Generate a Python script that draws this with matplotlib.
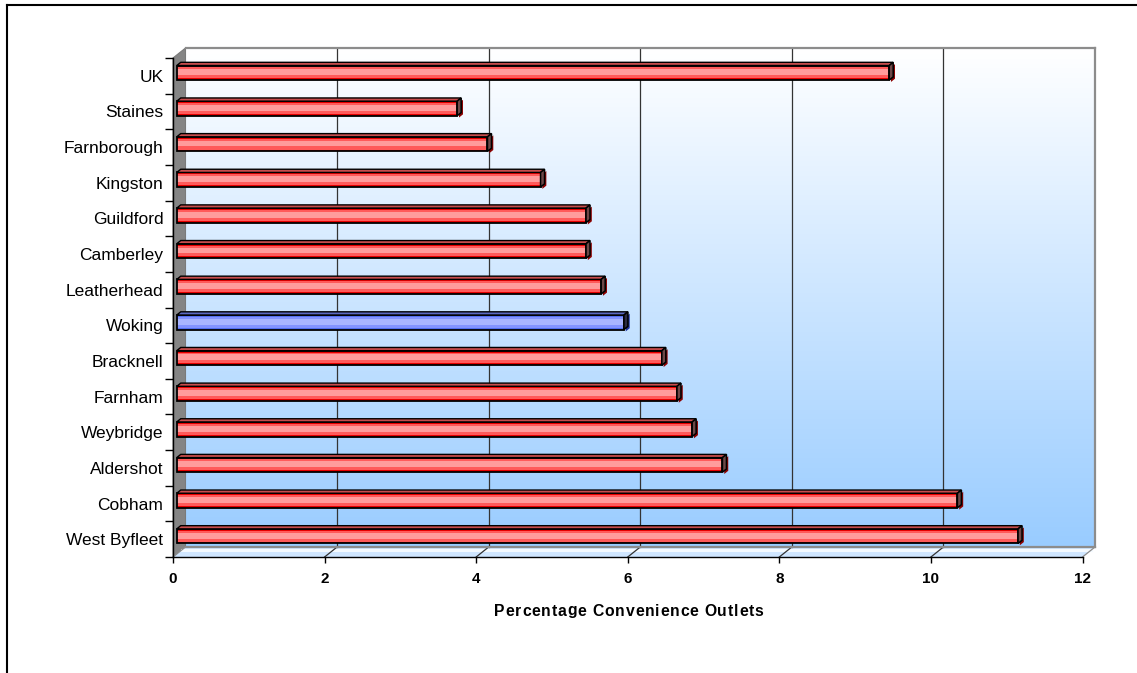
import numpy as np
import matplotlib
matplotlib.use("Agg")
import matplotlib.pyplot as plt
from matplotlib.patches import Polygon
from matplotlib.transforms import ScaledTranslation
from matplotlib.lines import Line2D
from matplotlib.font_manager import FontProperties

# ---- data -------------------------------------------------------------
categories = ["UK", "Staines", "Farnborough", "Kingston", "Guildford",
              "Camberley", "Leatherhead", "Woking", "Bracknell", "Farnham",
              "Weybridge", "Aldershot", "Cobham", "West Byfleet"]
values = [9.4, 3.7, 4.1, 4.8, 5.4, 5.4, 5.6, 5.9, 6.4, 6.6, 6.8, 7.2, 10.3, 11.1]
highlight = "Woking"
x_ticks = [0, 2, 4, 6, 8, 10, 12]
x_label = "Percentage Convenience Outlets"

# ---- styling ----------------------------------------------------------
FONT = "Liberation Sans"
RED = dict(outer="#E60000", mid="#FF5A5A", light="#FF9C9C",
           top="#C84C4C", cap="#6E4848", shadow="#8B0000")
BLUE = dict(outer="#5470F0", mid="#8393FF", light="#A9B5FF",
            top="#5A68C0", cap="#2C2C44", shadow="#1F33A0")

W, H, DPI = 1137, 673, 100
fig = plt.figure(figsize=(W / DPI, H / DPI), dpi=DPI)
fig.patch.set_facecolor("white")

# front plane of the plot box (pixels)
px_left, px_right = 173.0, 1082.5
px_top, px_bottom = 58.0, 557.0
ax = fig.add_axes([px_left / W, 1 - px_bottom / H,
                   (px_right - px_left) / W, (px_bottom - px_top) / H])
n = len(categories)
xmax = x_ticks[-1]
ax.patch.set_visible(False)

kx = (px_right - px_left) / xmax       # px per x unit
ky = (px_bottom - px_top) / n          # px per category
DEPTH_X, DEPTH_Y = 12.5, 10.0          # pixel shift from front to back plane
Dx, Dy = DEPTH_X / kx, -DEPTH_Y / ky


def at(x, y, t):
    """Point (x, y) pushed back to depth fraction t (0 front, 1 back)."""
    return (x + t * Dx, y + t * Dy)


y_top, y_bot = -0.5, n - 0.5

# back wall with vertical gradient
back = ax.transData + ScaledTranslation(DEPTH_X / DPI, DEPTH_Y / DPI,
                                        fig.dpi_scale_trans)
g = np.linspace(0, 1, 256)[:, None, None]
c0 = np.array([1.0, 1.0, 1.0])
c1 = np.array([0x99, 0xCC, 0xFF]) / 255.0
grad = c0 * (1 - g) + c1 * g
ax.imshow(grad, extent=(0, xmax, y_bot, y_top), transform=back,
          aspect="auto", interpolation="bilinear", zorder=0, clip_on=False)

# left wall
ax.add_patch(Polygon([at(0, y_top, 0), at(0, y_top, 1), at(0, y_bot, 1),
                      at(0, y_bot, 0)], closed=True, fc="#858585",
                     ec="#7A7A7A", lw=0.8, zorder=1, clip_on=False))
# floor
ax.add_patch(Polygon([at(0, y_bot, 0), at(xmax, y_bot, 0), at(xmax, y_bot, 1),
                      at(0, y_bot, 1)], closed=True, fc="#CFE6FF",
                     ec="none", zorder=1, clip_on=False))
fx = [at(0, y_bot, 0.72)[0], at(xmax, y_bot, 0.72)[0]]
fy = [at(0, y_bot, 0.72)[1], at(xmax, y_bot, 0.72)[1]]
ax.plot(fx, fy, color="#F4FAFF", lw=2.2, zorder=1.1, clip_on=False)

# grid on the back wall and its trace across the floor
for xv in x_ticks:
    edge = xv in (x_ticks[0], x_ticks[-1])
    col = "#8C8C8C" if edge else "#333333"
    if not edge:
        p0, p1 = at(xv, y_bot, 1), at(xv, y_top, 1)
        ax.plot([p0[0], p1[0]], [p0[1], p1[1]], color=col, lw=0.9,
                zorder=1.5, clip_on=False)
    p0, p1 = at(xv, y_bot, 1), at(xv, y_bot, 0)
    ax.plot([p0[0], p1[0]], [p0[1], p1[1]], color=col, lw=0.9,
            zorder=1.5, clip_on=False)

# back wall frame
for a, b in [((0, y_top), (xmax, y_top)), ((xmax, y_top), (xmax, y_bot)),
             ((0, y_bot), (xmax, y_bot))]:
    p0, p1 = at(*a, 1), at(*b, 1)
    ax.plot([p0[0], p1[0]], [p0[1], p1[1]], color="#8C8C8C", lw=1.6,
            zorder=1.6, clip_on=False, solid_capstyle="projecting")

# ---- bars ---------------------------------------------------------------
t1, t2 = 0.3, 0.62
bh = 0.41
sx, sy = 1.8 / kx, 1.8 / ky
for i, (cat, v) in enumerate(zip(categories, values)):
    pal = BLUE if cat == highlight else RED
    yc = i + t1 * Dy
    x0 = t1 * Dx
    ytop, ybot = i - bh / 2, i + bh / 2
    cap = [at(v, ytop, t1), at(v, ytop, t2), at(v, ybot, t2), at(v, ybot, t1)]
    # shadow under the end cap
    ax.add_patch(Polygon([(px + sx, py + sy) for px, py in cap], closed=True,
                         fc=pal["shadow"], ec="none", zorder=4, clip_on=False))
    # front face, banded
    ax.barh(yc, v, height=bh, left=x0, color=pal["outer"], zorder=5,
            clip_on=False)
    ax.barh(yc, v, height=bh * 0.74, left=x0, color=pal["mid"], zorder=5.1,
            clip_on=False)
    ax.barh(yc - bh * 0.04, v, height=bh * 0.40, left=x0, color=pal["light"],
            zorder=5.2, clip_on=False)
    ax.barh(yc, v, height=bh, left=x0, fill=False, edgecolor="black",
            lw=1.3, zorder=5.3, clip_on=False)
    # top face
    ax.add_patch(Polygon([at(0, ytop, t1), at(v, ytop, t1), at(v, ytop, t2),
                          at(0, ytop, t2)], closed=True, fc=pal["top"],
                         ec="black", lw=1.0, zorder=5.4, clip_on=False))
    # end cap
    ax.add_patch(Polygon(cap, closed=True, fc=pal["cap"], ec="black", lw=1.1,
                         zorder=5.5, clip_on=False))

# ---- axes ---------------------------------------------------------------
ax.set_xlim(0, xmax)
ax.set_ylim(y_bot, y_top)
for s in ("top", "right"):
    ax.spines[s].set_visible(False)
for s in ("left", "bottom"):
    ax.spines[s].set_color("black")
    ax.spines[s].set_linewidth(1.0)
    ax.spines[s].set_zorder(2)

ax.set_xticks(x_ticks)
ax.set_xticklabels([str(t) for t in x_ticks], fontsize=11,
                   fontweight="bold", family=FONT)
ax.tick_params(axis="x", length=4, width=1, pad=6.5, colors="black")

ax.set_yticks(range(n))
ax.set_yticklabels(categories, fontsize=12.5, family=FONT)
ax.tick_params(axis="y", which="major", length=0, pad=7)
ax.set_yticks(np.arange(-0.5, n), minor=True)
ax.tick_params(axis="y", which="minor", length=6, width=1, colors="black")

# x-axis title, letter-spaced
prop = FontProperties(family=FONT, weight="bold", size=11.3)
renderer = fig.canvas.get_renderer()
widths = [renderer.get_text_width_height_descent(ch, prop, ismath=False)[0]
          for ch in x_label]
spacing = 0.8
total = sum(widths) + spacing * (len(x_label) - 1)
cx, cy = 629.0, 611.0
xpos = cx - total / 2
for ch, w in zip(x_label, widths):
    fig.text(xpos / W, 1 - cy / H, ch, fontproperties=prop, ha="left",
             va="center")
    xpos += w + spacing

# outer frame
fig.add_artist(Line2D([6.5 / W, 6.5 / W], [0, 1 - 4.5 / H], color="black",
                      lw=1.5, transform=fig.transFigure))
fig.add_artist(Line2D([6.5 / W, 1], [1 - 4.5 / H, 1 - 4.5 / H], color="black",
                      lw=1.5, transform=fig.transFigure))

fig.savefig("out.png", dpi=DPI, facecolor="white")
